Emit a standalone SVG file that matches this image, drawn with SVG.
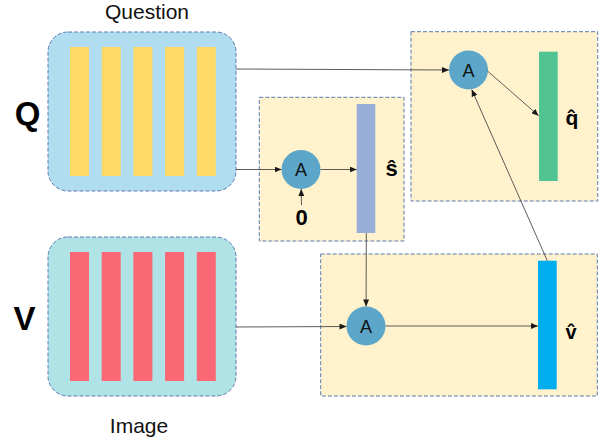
<svg xmlns="http://www.w3.org/2000/svg" width="600" height="442" viewBox="0 0 600 442">
  <style>
    .frame { stroke: #5b7bb2; stroke-width: 1; stroke-dasharray: 4 2; }
    .module { fill: #fff2cc; }
    .att { fill: #5ba6c9; }
    .att-label { font-family: "Liberation Sans", Arial, sans-serif; font-size: 18px; fill: #111; text-anchor: middle; }
    .caption { font-family: "Liberation Sans", Arial, sans-serif; font-size: 21px; fill: #111; text-anchor: middle; }
    .big { font-family: "Liberation Sans", Arial, sans-serif; font-size: 33px; font-weight: bold; fill: #000; text-anchor: middle; }
    .sym { font-family: "Liberation Sans", "DejaVu Sans", Arial, sans-serif; font-weight: bold; fill: #000; text-anchor: middle; }
    .word { fill: #ffd966; }
    .region { fill: #f96874; }
    .edge { stroke: #4a4a4a; stroke-width: 0.9; fill: none; marker-end: url(#tip); }
  </style>
  <defs>
    <marker id="tip" markerUnits="userSpaceOnUse" markerWidth="7" markerHeight="6" refX="7" refY="3" orient="auto">
      <path d="M0,0 L7,3 L0,6 z" fill="#1a1a1a"/>
    </marker>
  </defs>

  <!-- question features -->
  <g id="question">
    <text class="caption" x="147" y="19">Question</text>
    <rect class="frame" x="48" y="32" width="188" height="159" rx="20" fill="#b1ddf0"/>
    <rect class="word" x="70" y="47" width="19" height="129"/>
    <rect class="word" x="101.7" y="47" width="19" height="129"/>
    <rect class="word" x="133.4" y="47" width="19" height="129"/>
    <rect class="word" x="165.1" y="47" width="19" height="129"/>
    <rect class="word" x="196.8" y="47" width="19" height="129"/>
  </g>
  <g id="label-q">
    <text class="big" x="27.5" y="124.5">Q</text>
  </g>

  <!-- image features -->
  <g id="image">
    <rect class="frame" x="48" y="237" width="188" height="159" rx="20" fill="#b0e3e6"/>
    <rect class="region" x="70" y="252" width="19" height="129"/>
    <rect class="region" x="101.7" y="252" width="19" height="129"/>
    <rect class="region" x="133.4" y="252" width="19" height="129"/>
    <rect class="region" x="165.1" y="252" width="19" height="129"/>
    <rect class="region" x="196.8" y="252" width="19" height="129"/>
    <text class="caption" x="139" y="432.5">Image</text>
  </g>
  <g id="label-v">
    <text class="big" x="24.5" y="329.5">V</text>
  </g>

  <!-- first attention step: question summary -->
  <g id="module-s">
    <rect class="frame module" x="259.3" y="97.3" width="144.7" height="143.7"/>
  </g>
  <g id="att-s">
    <circle class="att" cx="301" cy="169.5" r="19.5"/>
    <text class="att-label" x="301" y="176">A</text>
  </g>
  <g id="zero">
    <text class="sym" font-size="22" x="301.7" y="225">0</text>
  </g>
  <g id="vec-s">
    <rect x="356.7" y="104" width="18.6" height="129" fill="#97afd7"/>
    <text class="sym" font-size="22" x="391.7" y="175.7">ŝ</text>
  </g>

  <!-- third attention step: attended question -->
  <g id="module-q">
    <rect class="frame module" x="411" y="31.7" width="186.7" height="169.3"/>
  </g>
  <g id="att-q">
    <circle class="att" cx="468.5" cy="70" r="19.5"/>
    <text class="att-label" x="468.5" y="76.5">A</text>
  </g>
  <g id="vec-q">
    <rect x="539" y="51.7" width="18.7" height="129.3" fill="#52c493"/>
    <text class="sym" font-size="21" x="572" y="125">q̂</text>
  </g>

  <!-- second attention step: attended image -->
  <g id="module-v">
    <rect class="frame module" x="320.7" y="254" width="276.6" height="142"/>
  </g>
  <g id="att-v">
    <circle class="att" cx="366" cy="326" r="19.5"/>
    <text class="att-label" x="366" y="332.5">A</text>
  </g>
  <g id="vec-v">
    <rect x="538" y="260.7" width="18.7" height="128.6" fill="#00adef"/>
    <text class="sym" font-size="20" x="571" y="339.3">v̂</text>
  </g>

  <!-- connectors -->
  <g id="connectors">
    <path class="edge" d="M236,69 L449,70"/>
    <path class="edge" d="M236,169.5 L281.5,169.5"/>
    <path class="edge" d="M301.5,205 L301.2,189"/>
    <path class="edge" d="M320.5,169.5 L356.7,169.5"/>
    <path class="edge" d="M366.3,233 L366.1,306.5"/>
    <path class="edge" d="M236,327 L346.5,326.5"/>
    <path class="edge" d="M385.5,326 L538,326"/>
    <path class="edge" d="M547.3,260.7 L471.7,89.6"/>
    <path class="edge" d="M487.5,71 L538.6,115.7"/>
  </g>
</svg>
